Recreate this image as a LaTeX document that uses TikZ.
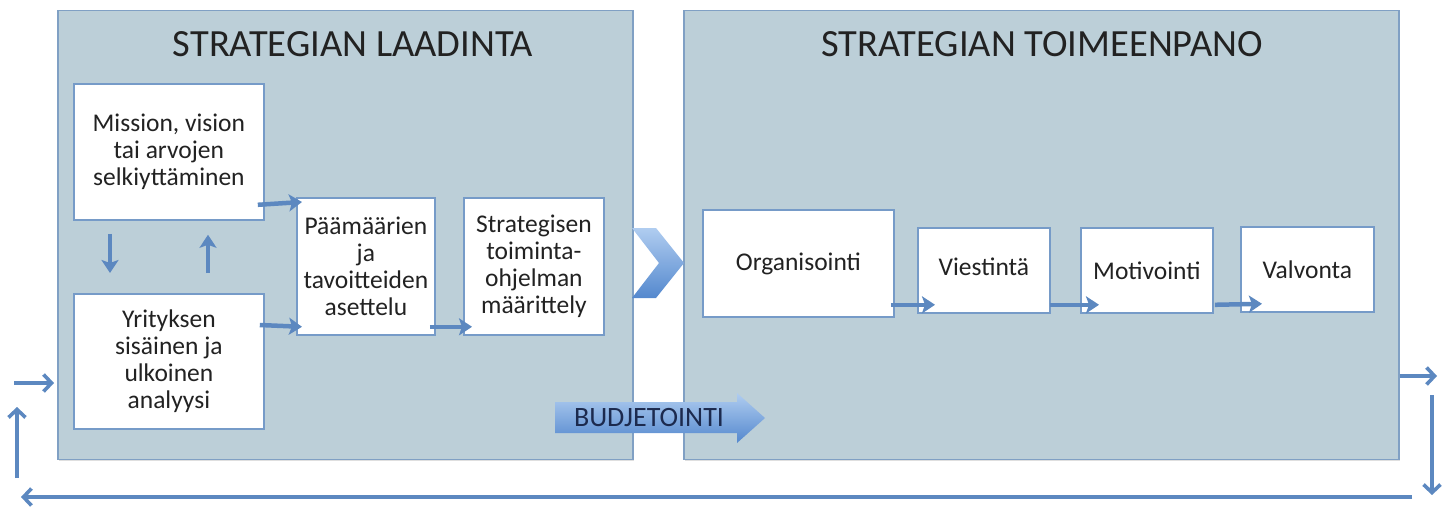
\documentclass[tikz,border=0pt]{standalone}
\usepackage{fontspec}
\setmainfont{Carlito}
\usetikzlibrary{arrows.meta,shadows}

\definecolor{panelfill}{RGB}{188,207,216}
\definecolor{panelline}{RGB}{128,160,196}
\definecolor{boxline}{RGB}{118,155,200}
\definecolor{arrowc}{RGB}{92,136,192}
\definecolor{txt}{RGB}{34,34,34}
\definecolor{navy}{RGB}{28,42,78}
\definecolor{shadelight}{RGB}{176,205,240}
\definecolor{shadedark}{RGB}{84,136,206}

\tikzset{
  panel/.style={anchor=north west, draw=panelline, line width=1.6pt, fill=panelfill,
    inner sep=0pt, drop shadow={shadow xshift=1.5pt, shadow yshift=-1.5pt, opacity=0.25}},
  stepbox/.style={anchor=north west, draw=boxline, line width=1.8pt, fill=white,
    inner sep=0pt, align=center, text=txt, font=\fontsize{25.5}{27}\selectfont,
    drop shadow={shadow xshift=1.5pt, shadow yshift=-1.5pt, opacity=0.3}},
  paneltitle/.style={text=txt, inner sep=0pt, font=\fontsize{38.5}{40}\selectfont},
  flow/.style={draw=arrowc, line width=4.5pt,
    -{Stealth[length=13pt, width=17pt, inset=3pt]}},
  loop/.style={draw=arrowc, line width=3.6pt,
    -{Straight Barb[length=8pt, width=17pt]}}
}

\begin{document}
\begin{tikzpicture}[x=1pt, y=-1pt]
  \useasboundingbox (0,0) rectangle (1453,506);

  % the two phase panels
  \node[panel, minimum width=575pt, minimum height=449pt] (lp) at (57,9.5) {};
  \node[panel, minimum width=715pt, minimum height=449pt] (rp) at (683,9.5) {};
  \node[paneltitle] (lt) at (353,44) {STRATEGIAN LAADINTA};
  \node[paneltitle] (rt) at (1042,44) {STRATEGIAN TOIMEENPANO};

  % formulation steps
  \node[stepbox, minimum width=190pt, minimum height=136pt] (mis) at (73,83)
    {Mission, vision\\tai arvojen\\selkiyttäminen};
  \node[stepbox, minimum width=190pt, minimum height=135pt] (yr) at (73,293)
    {Yrityksen\\sisäinen ja\\ulkoinen\\analyysi};
  \node[stepbox, minimum width=138pt, minimum height=137pt] (pa) at (296,197)
    {Päämäärien\\ja\\tavoitteiden\\asettelu};
  \node[stepbox, minimum width=140pt, minimum height=137pt] (st) at (463,197)
    {Strategisen\\toiminta-\\ohjelman\\määrittely};

  % implementation steps
  \node[stepbox, minimum width=191pt, minimum height=107pt] (org) at (702,209) {Organisointi};
  \node[stepbox, minimum width=132pt, minimum height=85pt, text depth=8pt] (vi) at (917,227) {Viestintä};
  \node[stepbox, minimum width=132pt, minimum height=85pt] (mo) at (1080,227) {Motivointi};
  \node[stepbox, minimum width=133pt, minimum height=85pt] (va) at (1240,226) {Valvonta};

  % chevron between the phases
  \shade[top color=shadelight, bottom color=shadedark]
    (632,228) -- (656,228) -- (684,263) -- (656,298) -- (632,298) -- (659,263) -- cycle;

  % budgeting arrow across both phases
  \shade[top color=shadelight, bottom color=shadedark]
    (555,402) -- (737,402) -- (737,393) -- (765,418) -- (737,443) -- (737,433)
    -- (555,433) -- cycle;
  \node[text=navy, inner sep=0pt, font=\fontsize{28}{30}\selectfont] (bud) at (649,418) {BUDJETOINTI};

  % flow inside the formulation phase
  \draw[flow] ([xshift=-7pt, yshift=16pt]mis.south east) -- ([xshift=6pt, yshift=-5pt]pa.north west);
  \draw[flow] ([xshift=-5pt, yshift=-32pt]yr.north east) -- ([xshift=6pt, yshift=9pt]pa.south west);
  \draw[flow] ([xshift=-6pt, yshift=9pt]pa.south east) -- ([xshift=9pt, yshift=9pt]st.south west);
  \draw[flow] ([xshift=37pt, yshift=-13pt]mis.south west) -- ([xshift=37pt, yshift=20pt]yr.north west);
  \draw[flow] ([xshift=135pt, yshift=20pt]yr.north west) -- ([xshift=135pt, yshift=-14pt]mis.south west);

  % flow inside the implementation phase
  \draw[flow] ([xshift=-4pt, yshift=13pt]org.south east) -- ([xshift=18pt, yshift=9pt]vi.south west);
  \draw[flow] ([xshift=-1pt, yshift=9pt]vi.south east) -- ([xshift=19pt, yshift=9pt]mo.south west);
  \draw[flow] ([xshift=1pt, yshift=9pt]mo.south east) -- ([xshift=22pt, yshift=9pt]va.south west);

  % feedback loop around the whole process
  \coordinate (outR) at (1437,376);
  \coordinate (downA) at (1432,395);
  \coordinate (downB) at (1432,495);
  \coordinate (backA) at (1412,497);
  \coordinate (backB) at (21,497);
  \coordinate (upA) at (17,478);
  \coordinate (upB) at (17,407);
  \coordinate (inL) at (14,383);
  \draw[loop] (rp.east |- outR) -- (outR);
  \draw[loop] (downA) -- (downB);
  \draw[loop] (backA) -- (backB);
  \draw[loop] (upA) -- (upB);
  \draw[loop] (inL) -- ([xshift=-3pt]lp.west |- inL);
\end{tikzpicture}
\end{document}
